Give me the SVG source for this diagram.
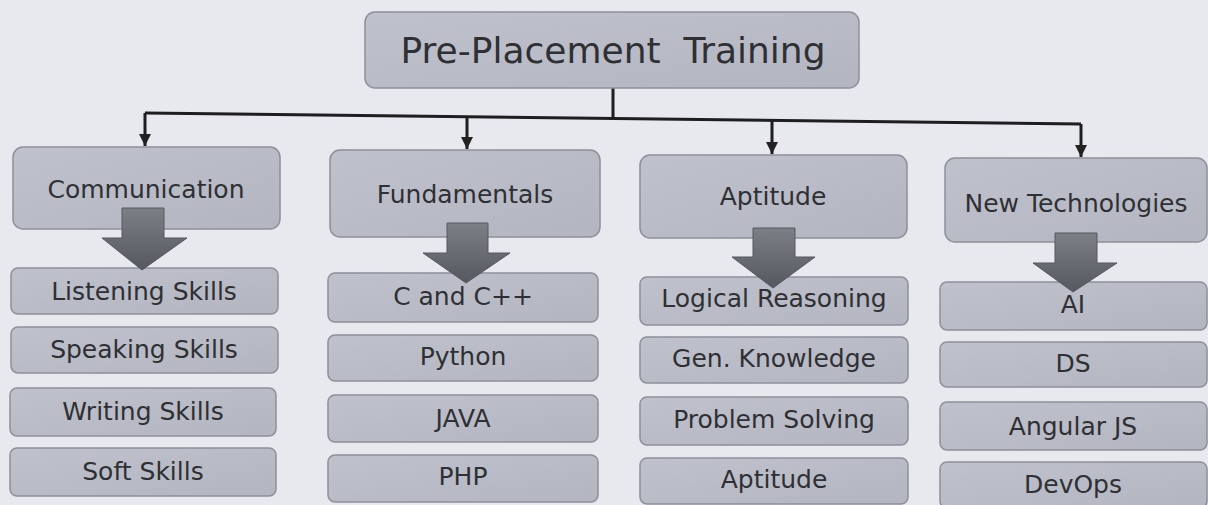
<svg xmlns="http://www.w3.org/2000/svg" width="1208" height="505" viewBox="0 0 1208 505">
<defs>
<linearGradient id="boxg" x1="0" y1="0" x2="1" y2="1">
<stop offset="0" stop-color="#bfc2cc"/>
<stop offset="1" stop-color="#b3b6c1"/>
</linearGradient>
<linearGradient id="arrg" x1="0" y1="0" x2="0" y2="1">
<stop offset="0" stop-color="#7c7f85"/>
<stop offset="1" stop-color="#55585e"/>
</linearGradient>
<marker id="ah" viewBox="0 0 10 10" refX="10" refY="5" markerWidth="4" markerHeight="4" orient="auto" markerUnits="strokeWidth">
<path d="M0,0 L10,5 L0,10 z" fill="#222"/>
</marker>
<style>
.bx{fill:url(#boxg);stroke:#8d9099;stroke-width:1.5}
.tx{font-family:"DejaVu Sans",Verdana,sans-serif;font-size:25px;fill:#2f3033;text-anchor:middle}
.ttl{font-size:36px}
.ba{fill:url(#arrg);stroke:#55585e;stroke-width:1}
.cn{stroke:#1e1e1e;stroke-width:3;fill:none}
</style>
</defs>
<rect width="1208" height="505" fill="#e8e8ef"/>

<g id="connectors">
<path class="cn" d="M613,88 V118.5"/>
<path class="cn" d="M145,113 L1081,124"/>
<line class="cn" x1="145" y1="113" x2="145" y2="146" marker-end="url(#ah)"/>
<line class="cn" x1="467" y1="116.8" x2="467" y2="149" marker-end="url(#ah)"/>
<line class="cn" x1="772" y1="120.4" x2="772" y2="154" marker-end="url(#ah)"/>
<line class="cn" x1="1081" y1="124" x2="1081" y2="157" marker-end="url(#ah)"/>
</g>

<g id="root">
<rect class="bx" x="365" y="12" width="494" height="76" rx="10"/>
<text class="tx ttl" x="613" y="63" xml:space="preserve">Pre-Placement  Training</text>
</g>

<g id="communication">
<rect class="bx" x="13" y="147" width="267" height="82" rx="10"/>
<text class="tx" x="146" y="198">Communication</text>
</g>
<g id="fundamentals">
<rect class="bx" x="330" y="150" width="270" height="87" rx="10"/>
<text class="tx" x="465" y="203">Fundamentals</text>
</g>
<g id="aptitude">
<rect class="bx" x="640" y="155" width="267" height="83" rx="10"/>
<text class="tx" x="773" y="205">Aptitude</text>
</g>
<g id="newtech">
<rect class="bx" x="945" y="158" width="262" height="84" rx="10"/>
<text class="tx" x="1076" y="212">New Technologies</text>
</g>

<g id="c1-items">
<g id="listening"><rect class="bx" x="11" y="268" width="267" height="46" rx="7"/><text class="tx" x="144" y="300">Listening Skills</text></g>
<g id="speaking"><rect class="bx" x="11" y="327" width="267" height="46" rx="7"/><text class="tx" x="144" y="358">Speaking Skills</text></g>
<g id="writing"><rect class="bx" x="10" y="388" width="266" height="48" rx="7"/><text class="tx" x="143" y="420">Writing Skills</text></g>
<g id="soft"><rect class="bx" x="10" y="448" width="266" height="48" rx="7"/><text class="tx" x="143" y="480">Soft Skills</text></g>
</g>

<g id="c2-items">
<g id="cpp"><rect class="bx" x="328" y="273" width="270" height="49" rx="7"/><text class="tx" x="463" y="305">C and C++</text></g>
<g id="python"><rect class="bx" x="328" y="335" width="270" height="46" rx="7"/><text class="tx" x="463" y="365">Python</text></g>
<g id="java"><rect class="bx" x="328" y="395" width="270" height="47" rx="7"/><text class="tx" x="463" y="427">JAVA</text></g>
<g id="php"><rect class="bx" x="328" y="455" width="270" height="47" rx="7"/><text class="tx" x="463" y="485">PHP</text></g>
</g>

<g id="c3-items">
<g id="logical"><rect class="bx" x="640" y="277" width="268" height="48" rx="7"/><text class="tx" x="774" y="307">Logical Reasoning</text></g>
<g id="genknow"><rect class="bx" x="640" y="337" width="268" height="46" rx="7"/><text class="tx" x="774" y="367">Gen. Knowledge</text></g>
<g id="problem"><rect class="bx" x="640" y="397" width="268" height="48" rx="7"/><text class="tx" x="774" y="428">Problem Solving</text></g>
<g id="aptitude2"><rect class="bx" x="640" y="458" width="268" height="46" rx="7"/><text class="tx" x="774" y="488">Aptitude</text></g>
</g>

<g id="c4-items">
<g id="ai"><rect class="bx" x="940" y="282" width="267" height="48" rx="7"/><text class="tx" x="1073" y="313">AI</text></g>
<g id="ds"><rect class="bx" x="940" y="342" width="267" height="45" rx="7"/><text class="tx" x="1073" y="372">DS</text></g>
<g id="angular"><rect class="bx" x="940" y="402" width="267" height="48" rx="7"/><text class="tx" x="1073" y="435">Angular JS</text></g>
<g id="devops"><rect class="bx" x="940" y="462" width="267" height="46" rx="7"/><text class="tx" x="1073" y="493">DevOps</text></g>
</g>

<g id="block-arrows">
<path class="ba" d="M122,208 H164 V238 H187 L142,270 L102,238 H122 Z"/>
<path class="ba" d="M447,223 H488 V253 H510 L466,283 L423,253 H447 Z"/>
<path class="ba" d="M753,228 H795 V257 H815 L773,288 L732,257 H753 Z"/>
<path class="ba" d="M1055,233 H1097 V263 H1117 L1073,292 L1033,263 H1055 Z"/>
</g>
</svg>
